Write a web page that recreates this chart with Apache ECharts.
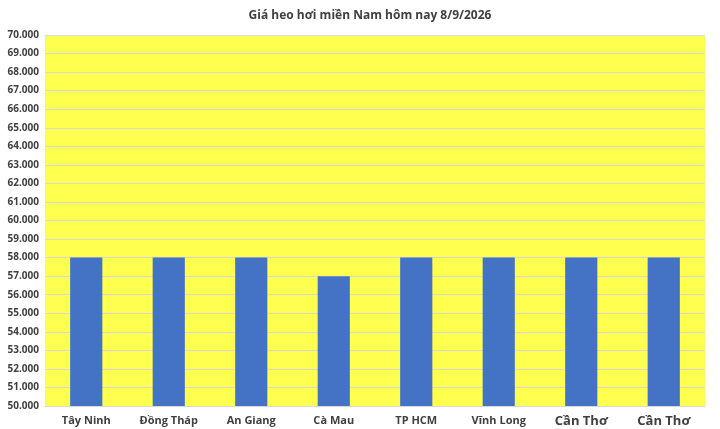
<!DOCTYPE html>
<html><head><meta charset="utf-8">
<script src="https://cdn.jsdelivr.net/npm/echarts@6/dist/echarts.min.js"></script>
<style>html,body{margin:0;padding:0;background:#fff}#c{width:720px;height:429px}</style>
</head><body><div id="c"></div>
<script>
const title = "Giá heo hơi miền Nam hôm nay 8/9/2026";
const categories = ["Tây Ninh","Đồng Tháp","An Giang","Cà Mau","TP HCM","Vĩnh Long","Cần Thơ","Cần Thơ"];
const prices = [58000,58000,58000,57000,58000,58000,58000,58000];
const yMin = 50000, yMax = 70000, yStep = 1000;

const chart = echarts.init(document.getElementById('c'));
const catData = categories.map((c,i)=> i>=6 ? {value:c, textStyle:{fontSize:13}} : c);
chart.setOption({
  animation:false,
  backgroundColor:'#ffffff',
  title:{text:title,left:365,top:5,textAlign:'center',textStyle:{fontFamily:'Open Sans',fontSize:12,fontWeight:'bold',color:'#404040'}},
  grid:{left:45,right:15,top:35,bottom:23,show:true,backgroundColor:'#FFFF50',borderWidth:0},
  xAxis:{type:'category',data:catData,axisLine:{show:true,lineStyle:{color:'#d9d9d9'}},axisTick:{show:false},
    axisLabel:{fontFamily:'Open Sans',fontSize:11,fontWeight:'bold',color:'#404040',margin:9,interval:0}},
  yAxis:{type:'value',min:yMin,max:yMax,interval:yStep,
    axisLine:{show:false},axisTick:{show:false},
    splitLine:{lineStyle:{color:'#d9d9d9',width:1}},
    axisLabel:{fontFamily:'Open Sans',fontSize:10,fontWeight:'bold',color:'#404040',margin:6,
      formatter:v=>v.toLocaleString('de-DE')}},
  series:[{type:'bar',data:prices,barWidth:'39%',itemStyle:{color:'#4472C4'}}]
});
</script></body></html>
